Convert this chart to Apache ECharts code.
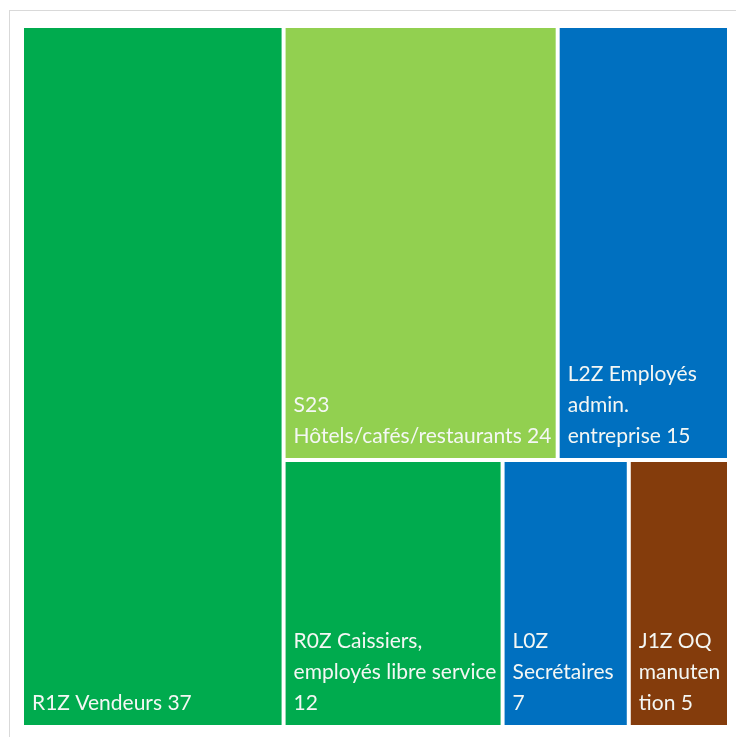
<!DOCTYPE html>
<html><head><meta charset="utf-8">
<script src="https://cdn.jsdelivr.net/npm/echarts@6/dist/echarts.min.js"></script>
<style>
html,body{margin:0;padding:0;background:#fff;}
#frame{position:absolute;left:9px;top:10px;width:740px;height:740px;border:1px solid #d9d9d9;box-sizing:border-box;}
#c{position:absolute;left:0;top:0;width:736px;height:737px;}
</style></head>
<body>
<div id="frame"></div>
<div id="c"></div>
<script>
const labels = [
  "R1Z Vendeurs 37",
  "S23\nHôtels/cafés/restaurants 24",
  "L2Z Employés\nadmin.\nentreprise 15",
  "R0Z Caissiers,\nemployés libre service\n12",
  "L0Z\nSecrétaires\n7",
  "J1Z OQ\nmanuten\ntion 5"
];
// tile sizes (labels show rounded values)
const values = [37, 24, 15, 11.8, 6.8, 5.4];
const colors = ["#00AB4E", "#92D050", "#0070C0", "#00AB4E", "#0070C0", "#843C0C"];

function leaf(i){
  return {name:labels[i], value:values[i], itemStyle:{color:colors[i], borderWidth:2, borderColor:'#fff'}};
}
function group(name, children){
  return {name:name, value:children.reduce((s,c)=>s+c.value,0), children:children,
          itemStyle:{borderWidth:0, gapWidth:0, borderColor:'#fff'}};
}
// grouping mirrors the reference's arrangement of tiles
const tree = [
  leaf(0),
  group('g1', [
    group('g2', [leaf(1), leaf(2)]),
    group('g3', [group('g4', [leaf(3), leaf(4)]), leaf(5)])
  ])
];

const chart = echarts.init(document.getElementById('c'), null, {renderer:'canvas'});
chart.setOption({
  animation:false,
  series:[{
    type:'treemap',
    left:22, top:26, right:7, bottom:10,
    roam:false, nodeClick:false, sort:false,
    breadcrumb:{show:false},
    squareRatio:0.7,
    itemStyle:{borderWidth:0, gapWidth:0, borderColor:'#fff'},
    label:{
      show:true, position:'insideBottomLeft', distance:0,
      color:'#f4f7f4', fontFamily:'Lato', fontSize:21, lineHeight:31,
      padding:[0,0,6,8], overflow:'none',
      formatter: p => p.name
    },
    upperLabel:{show:false},
    data: tree
  }]
});
</script>
</body></html>
